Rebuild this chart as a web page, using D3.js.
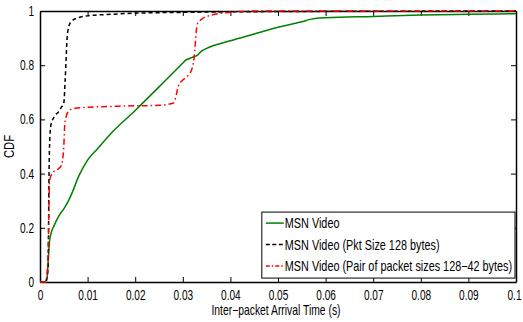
<!DOCTYPE html>
<html>
<head>
	<script src="https://d3js.org/d3.v7.min.js"></script>
	<style>
		body { margin: 0; background: #fff; }
		text { font-family: "Liberation Sans", Arial, sans-serif; }
	</style>
</head>
<body>
	<div id="chart"></div>

	<script>
		// CDF curves: [inter-packet time (s), CDF]
		const msnVideo = [
			[0, 0], [0.001, 0], [0.0015, 0.02], [0.0018, 0.1], [0.002, 0.15], [0.0025, 0.19],
			[0.003, 0.21], [0.004, 0.245], [0.005, 0.27], [0.006, 0.3], [0.007, 0.34],
			[0.008, 0.385], [0.009, 0.42], [0.01, 0.45], [0.012, 0.49], [0.015, 0.55],
			[0.02, 0.633], [0.025, 0.72], [0.03, 0.808], [0.0305, 0.817], [0.031, 0.822],
			[0.032, 0.829], [0.033, 0.836], [0.0338, 0.85], [0.035, 0.862], [0.04, 0.89],
			[0.045, 0.915], [0.05, 0.94], [0.055, 0.96], [0.057, 0.97], [0.06, 0.975],
			[0.07, 0.98], [0.08, 0.985], [0.09, 0.988], [0.1, 0.99]
		];
		const msnPkt128 = [
			[0, 0], [0.0012, 0], [0.0017, 0.05], [0.0019, 0.4], [0.002, 0.5], [0.0023, 0.58],
			[0.003, 0.61], [0.004, 0.63], [0.0045, 0.645], [0.005, 0.66], [0.0053, 0.75],
			[0.0057, 0.9], [0.006, 0.94], [0.0065, 0.96], [0.008, 0.975], [0.01, 0.982],
			[0.015, 0.988], [0.02, 0.992], [0.03, 0.995], [0.05, 0.998], [0.1, 1]
		];
		const msnPair = [
			[0, 0], [0.0012, 0], [0.0017, 0.1], [0.0019, 0.3], [0.002, 0.37], [0.0025, 0.4],
			[0.004, 0.42], [0.0045, 0.43], [0.005, 0.5], [0.0052, 0.58], [0.0055, 0.61],
			[0.006, 0.63], [0.007, 0.64], [0.01, 0.645], [0.015, 0.648], [0.02, 0.65],
			[0.025, 0.652], [0.028, 0.66], [0.0285, 0.68], [0.029, 0.72], [0.03, 0.745],
			[0.031, 0.76], [0.032, 0.79], [0.0325, 0.85], [0.0328, 0.92], [0.033, 0.95],
			[0.034, 0.97], [0.036, 0.985], [0.04, 0.995], [0.045, 1], [0.1, 1]
		];
		const seriesNames = ["MSN Video", "MSN Video (Pkt Size 128 bytes)", "MSN Video (Pair of packet sizes 128\u221242 bytes)"];
		const xTicks = [0, 0.01, 0.02, 0.03, 0.04, 0.05, 0.06, 0.07, 0.08, 0.09, 0.1];
		const yTicks = [0, 0.2, 0.4, 0.6, 0.8, 1];

		const W = 523, H = 322;
		const margin = { top: 11, right: 7, bottom: 40, left: 40 };
		const width = W - margin.left - margin.right;
		const height = H - margin.top - margin.bottom;

		const svg = d3.select("#chart").append("svg")
			.attr("width", W).attr("height", H);
		const g = svg.append("g")
			.attr("transform", `translate(${margin.left},${margin.top})`);

		const x = d3.scaleLinear().domain([0, 0.1]).range([0, width]);
		const y = d3.scaleLinear().domain([0, 1]).range([height, 0]);

		const fmt = d => d === 0 ? "0" : (d === 1 ? "1" : String(+d.toFixed(2)));

		// the original uses a narrow Helvetica, so squeeze the glyphs horizontally
		function condense(sel, k) {
			sel.each(function() {
				const t = d3.select(this);
				const x0 = +(t.attr("x") || 0);
				const tr = t.attr("transform") || "";
				t.attr("x", x0 / k).attr("transform", (tr + ` scale(${k},1)`).trim());
			});
		}

		// axes with inward ticks, mirrored on top and right
		const bx = g.append("g").attr("transform", `translate(0,${height})`)
			.call(d3.axisBottom(x).tickValues(xTicks).tickSizeInner(-5).tickSizeOuter(0).tickPadding(8).tickFormat(fmt));
		const tx = g.append("g")
			.call(d3.axisTop(x).tickValues(xTicks).tickSizeInner(-5).tickSizeOuter(0).tickFormat(""));
		const ly = g.append("g")
			.call(d3.axisLeft(y).tickValues(yTicks).tickSizeInner(-5).tickSizeOuter(0).tickPadding(6).tickFormat(fmt));
		const ry = g.append("g").attr("transform", `translate(${width},0)`)
			.call(d3.axisRight(y).tickValues(yTicks).tickSizeInner(-5).tickSizeOuter(0).tickFormat(""));
		[bx, tx, ly, ry].forEach(a => {
			a.select(".domain").attr("stroke", "#000").attr("stroke-width", 1.5);
			a.selectAll(".tick line").attr("stroke", "#000");
			a.selectAll("text").attr("font-size", 14).attr("fill", "#000")
				.attr("font-family", "'Liberation Sans', Arial, sans-serif");
		});
		// nudge the last x label so it stays inside the picture
		bx.selectAll(".tick text").filter(d => d === 0.1).attr("x", -2);
		[bx, ly].forEach(a => a.selectAll(".tick text").call(condense, 0.72));

		const line = d3.line().x(d => x(d[0])).y(d => y(d[1])).curve(d3.curveMonotoneX);

		const styles = [
			{ data: msnVideo, color: "#008000", dash: null, legDash: null },
			{ data: msnPkt128, color: "#000", dash: "4,3", legDash: "4,2.5" },
			{ data: msnPair, color: "#ff0000", dash: "6,3,1.5,3", legDash: "4,2,1.5,2" }
		];

		styles.forEach(s => {
			g.append("path")
				.datum(s.data)
				.attr("d", line)
				.attr("fill", "none")
				.attr("stroke", s.color)
				.attr("stroke-width", 1.5)
				.attr("stroke-dasharray", s.dash);
		});

		// axis labels
		svg.append("text")
			.attr("x", margin.left + width / 2 - 2).attr("y", 315)
			.attr("text-anchor", "middle").attr("font-size", 14)
			.text("Inter\u2212packet Arrival Time (s)")
			.call(condense, 0.74);
		svg.append("text")
			.attr("transform", `translate(14,${margin.top + height / 2}) rotate(-90)`)
			.attr("text-anchor", "middle").attr("font-size", 14)
			.text("CDF")
			.call(condense, 0.8);

		// legend
		const lg = g.append("g").attr("transform", `translate(${x(0.0466)},${y(0.258)})`);
		lg.append("rect")
			.attr("width", x(0.1) - x(0.0466) - 1).attr("height", 66)
			.attr("fill", "#fff").attr("stroke", "#000").attr("stroke-width", 1);
		styles.forEach((s, i) => {
			const yy = 11 + i * 21.5;
			lg.append("line")
				.attr("x1", 4).attr("x2", 22).attr("y1", yy).attr("y2", yy)
				.attr("stroke", s.color).attr("stroke-width", 1.5)
				.attr("stroke-dasharray", s.legDash);
			lg.append("text")
				.attr("x", 23).attr("y", yy + 5)
				.attr("font-size", 14)
				.text(seriesNames[i])
				.call(condense, 0.775);
		});
	</script>
</body>
</html>
